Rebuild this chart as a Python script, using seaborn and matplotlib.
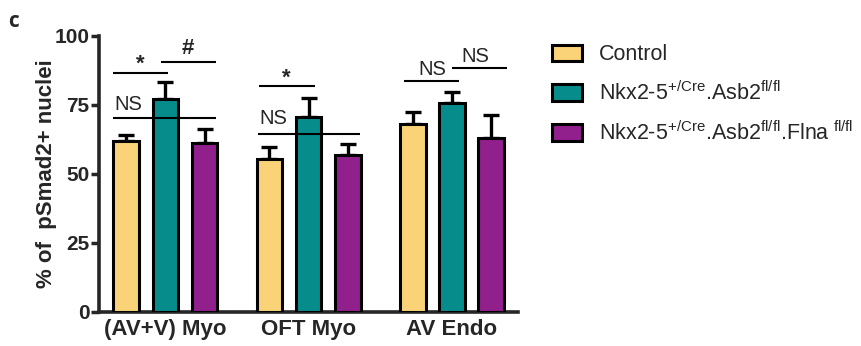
import numpy as np
import pandas as pd
import matplotlib
matplotlib.use("Agg")
import matplotlib.pyplot as plt
from matplotlib.patches import Patch
import seaborn as sns

# ---- data ----
regions = ["(AV+V) Myo", "OFT Myo", "AV Endo"]
genotypes = ["Control", "Asb2", "Asb2Flna"]
legend_labels = [
    "Control",
    r"Nkx2-5$^{+/Cre}$.Asb2$^{fl/fl}$",
    r"Nkx2-5$^{+/Cre}$.Asb2$^{fl/fl}$.Flna$^{\ fl/fl}$",
]
control_mean = [62.0, 55.3, 68.1]
asb2_mean = [77.1, 70.5, 75.6]
asb2flna_mean = [61.1, 56.8, 62.9]
control_err = [2.1, 4.4, 4.5]
asb2_err = [6.2, 7.2, 4.2]
asb2flna_err = [5.3, 4.1, 8.6]
yticks = [0, 25, 50, 75, 100]

# significance annotations: (group, left offset, right offset, line y, text, text offset, text y)
annotations = [
    (0, -0.363, 0.021, 86.7, "*", -0.172, 85.8),
    (0, -0.032, 0.352, 90.7, "#", 0.160, 91.6),
    (0, -0.363, 0.352, 70.2, "NS", -0.255, 71.8),
    (1, -0.349, 0.042, 81.9, "*", -0.156, 81.0),
    (1, -0.354, 0.361, 64.5, "NS", -0.246, 66.6),
    (2, -0.333, 0.049, 83.7, "NS", -0.140, 84.4),
    (2, 0.002, 0.382, 88.3, "NS", 0.163, 89.0),
]

colors = ["#FAD278", "#078C8C", "#911F8C"]

df = pd.DataFrame({
    "region": regions * 3,
    "genotype": sum([[g] * 3 for g in genotypes], []),
    "value": control_mean + asb2_mean + asb2flna_mean,
})

sns.set_style("ticks")
plt.rcParams["font.family"] = ["Liberation Sans", "DejaVu Sans"]
plt.rcParams["mathtext.fontset"] = "custom"
plt.rcParams["mathtext.rm"] = "Liberation Sans"
plt.rcParams["mathtext.default"] = "regular"

fig = plt.figure(figsize=(8.61, 3.46), dpi=100)
ax = fig.add_axes([0.115, 0.0983, 0.4866, 0.7977])

sns.barplot(data=df, x="region", y="value", hue="genotype", order=regions,
            hue_order=genotypes, palette=colors, saturation=1, errorbar=None,
            width=0.82, gap=0.35, edgecolor="black", linewidth=2.2,
            legend=False, ax=ax, zorder=3)

# error bars (upward only) placed on the seaborn bars
patches = sorted(ax.patches, key=lambda p: p.get_x())
errs_by_pos = []
for gi in range(3):
    for m, e in [(control_mean, control_err), (asb2_mean, asb2_err),
                 (asb2flna_mean, asb2flna_err)]:
        errs_by_pos.append((m[gi], e[gi]))
for p, (m, e) in zip(patches, errs_by_pos):
    xc = p.get_x() + p.get_width() / 2
    ax.errorbar([xc], [m], yerr=[[0], [e]], fmt="none", ecolor="black",
                elinewidth=2.4, capsize=5.5, capthick=2.4, zorder=2)

for g, l, r, y, txt, tx, ty in annotations:
    ax.plot([g + l, g + r], [y, y], color="black", lw=1.5, zorder=4,
            solid_capstyle="butt")
    if txt == "NS":
        ax.text(g + tx, ty, txt, ha="center", va="bottom", fontsize=14.5, zorder=5)
    else:
        ax.text(g + tx, ty, txt, ha="center", va="bottom", fontsize=16,
                fontweight="bold", zorder=5)

ax.set_xlim(-0.4625, 2.46)
ax.set_ylim(0, 100)
ax.set_yticks(yticks)
ax.set_yticklabels([str(t) for t in yticks], fontsize=15, fontweight="bold")
ax.set_xticks(range(3))
ax.set_xticklabels(regions, fontsize=16, fontweight="bold")
ax.tick_params(axis="y", length=6, width=2.5, pad=1)
ax.tick_params(axis="x", length=0, pad=5)
ax.set_xlabel("")
ax.set_ylabel("% of  pSmad2+ nuclei", fontsize=16, fontweight="bold")
ax.yaxis.set_label_coords(-0.1, 0.5)
for s in ["top", "right"]:
    ax.spines[s].set_visible(False)
for s in ["left", "bottom"]:
    ax.spines[s].set_linewidth(2.6)

handles = [Patch(facecolor=c, edgecolor="black", linewidth=2.2) for c in colors]
fig.legend(handles, legend_labels, loc="upper left", bbox_to_anchor=(0.641, 0.872),
           frameon=False, fontsize=15.5, handlelength=1.4, handleheight=0.8,
           handletextpad=0.8, labelspacing=0.75, borderpad=0, borderaxespad=0)

fig.text(8 / 861, 1 - 27 / 346, "c", fontsize=15, fontweight="bold",
         family=["Open Sans", "DejaVu Sans"])

fig.savefig("out.png", dpi=100)
